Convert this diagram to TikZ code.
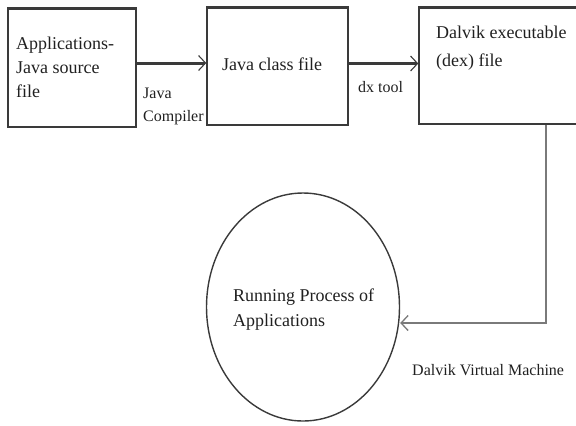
\documentclass[tikz,border=0pt]{standalone}
\usepackage{fontspec}
\setmainfont{Liberation Serif}
\usetikzlibrary{arrows.meta,shapes.geometric}
\definecolor{boxline}{HTML}{3A3A3A}
\definecolor{thinline}{HTML}{7A7A7A}
\definecolor{txt}{HTML}{202020}
\tikzset{
  boxnode/.style={draw=boxline,line width=1.4bp,rectangle,inner sep=0pt},
  topedge/.style={draw=boxline,line width=3bp},
  bigtext/.style={text=txt,inner sep=0pt,anchor=west,align=left,font=\fontsize{18bp}{24bp}\selectfont},
  smalltext/.style={text=txt,inner sep=0pt,anchor=west,align=left,font=\fontsize{16bp}{23bp}\selectfont},
  thickarrow/.style={draw=boxline,line width=3bp,-{Straight Barb[length=7bp,width=15bp,line width=1.1bp]}},
  thinarrow/.style={draw=thinline,line width=1.3bp,-{Straight Barb[length=7bp,width=15bp,line width=1.3bp]}},
  ellnode/.style={draw=boxline,line width=1.4bp,ellipse,inner sep=0pt}
}
\begin{document}
\begin{tikzpicture}[x=1bp,y=-1bp]
\useasboundingbox (0,0) rectangle (576,425);
\clip (0,0) rectangle (576,425);
% boxes
\node[boxnode,minimum width=128bp,minimum height=118bp] (b1) at (72,68) {};
\node[boxnode,minimum width=141bp,minimum height=117bp] (b2) at (277.5,66.5) {};
\node[boxnode,minimum width=181bp,minimum height=116bp] (b3) at (509.5,66) {};
\draw[topedge] (b1.north west) -- (b1.north east);
\draw[topedge] (b2.north west) -- (b2.north east);
\draw[topedge] (b3.north west) -- (b3.north east);
% box texts
\node[bigtext] (t1) at (16,67) {Applications-\\Java source\\file};
\node[bigtext] (t2) at (222,64) {Java class file};
\node[bigtext,font=\fontsize{18bp}{28bp}\selectfont] (t3) at (436,48) {Dalvik executable\\(dex) file};
% ellipse
\node[ellnode,minimum width=193bp,minimum height=228bp] (e) at (303,307) {};
\node[bigtext,font=\fontsize{18bp}{25bp}\selectfont] (te) at (233,309.5) {Running Process of\\Applications};
% connectors
\draw[thickarrow] ([yshift=5bp]b1.east) -- ([yshift=5bp]b1.east -| b2.west);
\draw[thickarrow] ([yshift=3bp]b2.east) -- ([yshift=3bp]b2.east -| b3.west);
\coordinate (c1) at (546,323);
\draw[thinarrow] (b3.south -| c1) -- (c1) -- (e.east |- c1);
% labels
\node[smalltext] (l1) at (143,106.5) {Java\\Compiler};
\node[smalltext] (l2) at (358,87) {dx tool};
\node[smalltext] (l3) at (412,370) {Dalvik Virtual Machine};
\end{tikzpicture}
\end{document}
